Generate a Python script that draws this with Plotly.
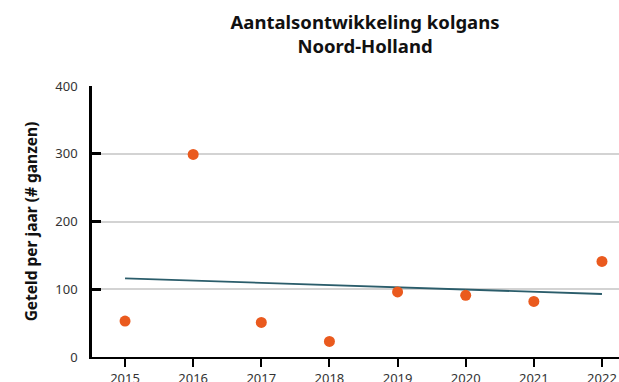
import numpy as np
import plotly.graph_objects as go

# Annual counts of white-fronted geese (kolgans), Noord-Holland
years = [2015, 2016, 2017, 2018, 2019, 2020, 2021, 2022]
counts = [53, 299, 51, 23, 96, 91, 82, 141]
y_ticks = [0, 100, 200, 300, 400]

# Linear trend through the counts
slope, intercept = np.polyfit(years, counts, 1)
trend = [slope * yr + intercept for yr in years]

FONT = "Noto Sans"

fig = go.Figure()
fig.add_trace(go.Scatter(
    x=[years[0], years[-1]], y=[trend[0], trend[-1]], mode="lines",
    line=dict(color="#2b5d6b", width=1.8), hoverinfo="skip", showlegend=False,
))
fig.add_trace(go.Scatter(
    x=years, y=counts, mode="markers",
    marker=dict(color="#ea5a1e", size=11, line=dict(width=0)),
    showlegend=False,
))

fig.update_layout(
    width=619, height=382,
    margin=dict(l=92, r=0, t=86, b=25),
    paper_bgcolor="white", plot_bgcolor="white",
    font=dict(family=FONT, color="#333333", size=13),
    title=dict(
        text="<b>Aantalsontwikkeling kolgans<br>Noord-Holland</b>",
        x=365 / 619, xanchor="center", xref="container",
        y=0.925, yanchor="top",
        font=dict(family=FONT, size=18.5, color="#111111"),
    ),
)
fig.update_xaxes(
    range=[2014.515, 2022.25], tickmode="array", tickvals=years,
    ticktext=[str(y) for y in years], automargin=False,
    showline=True, linecolor="black", linewidth=2,
    ticks="outside", ticklen=8, tickwidth=2, tickcolor="black",
    showgrid=False, zeroline=False,
    tickfont=dict(size=13, color="#333333"),
)
fig.update_yaxes(
    range=[0, 400], tickmode="array", tickvals=y_ticks, automargin=False,
    showline=True, linecolor="black", linewidth=2.5,
    ticks="inside", ticklen=9, tickwidth=2.5, tickcolor="black",
    ticklabelstandoff=9,
    showgrid=True, gridcolor="#d3d3d3", gridwidth=1.5, zeroline=False,
    tickfont=dict(size=13, color="#333333"),
    title=dict(text="<b>Geteld per jaar (# ganzen)</b>",
               font=dict(family=FONT, size=15.5, color="#111111"), standoff=14),
)

fig.write_html("out.html")
